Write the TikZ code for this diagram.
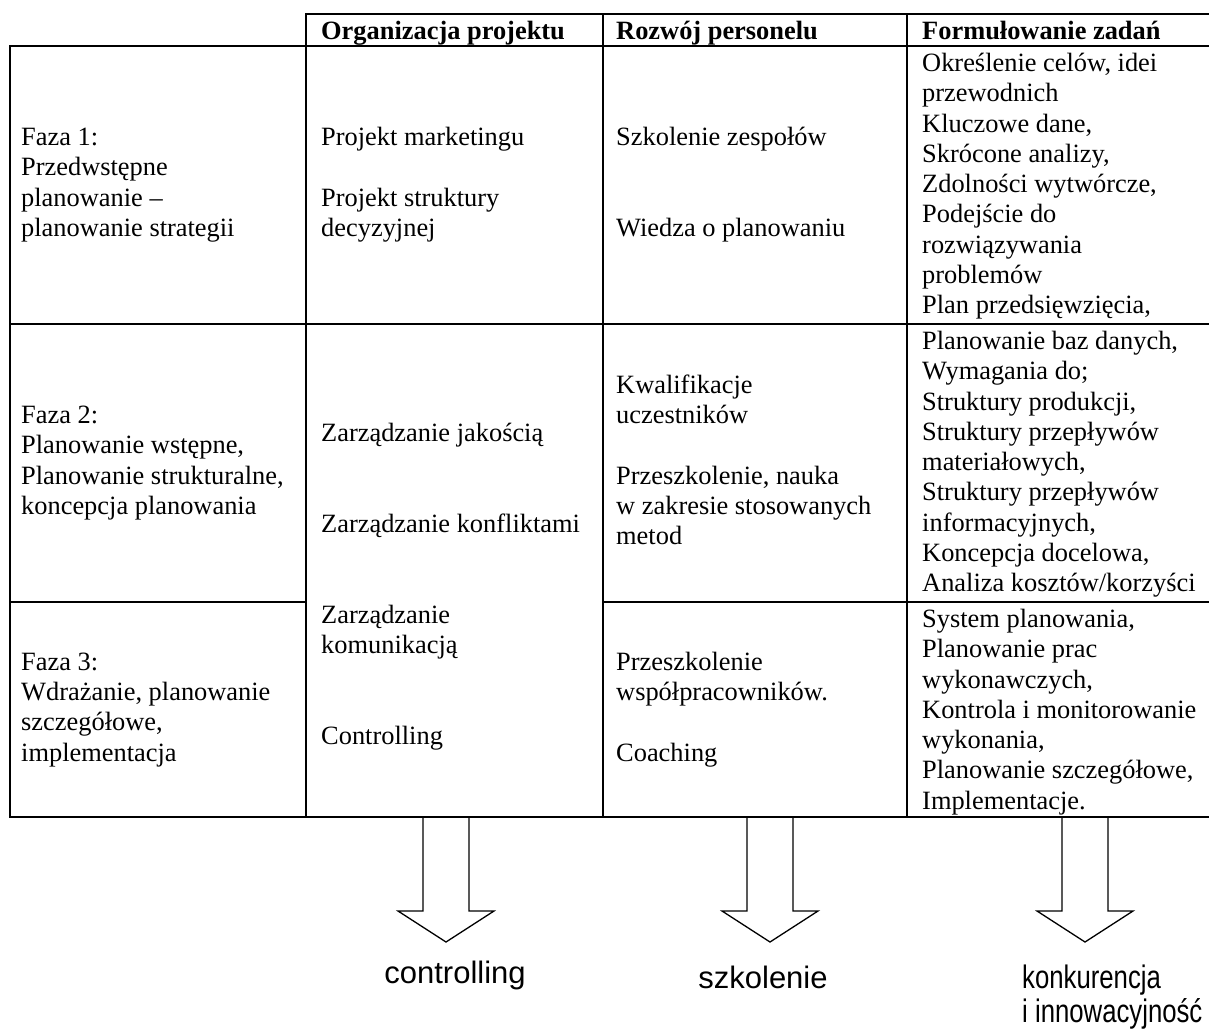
\documentclass[tikz,border=0pt]{standalone}
\usepackage{fontspec}
\usepackage{graphicx}
\setmainfont{Liberation Serif}
\newfontfamily\labelfont{Liberation Sans}
\begin{document}
\begin{tikzpicture}[x=1pt,y=-1pt,
  grid/.style={line width=2.2pt, line cap=rect, draw=black},
  arrowline/.style={line width=1.3pt, draw=black, line join=miter},
  cell/.style={inner sep=0pt, align=left, anchor=west, font=\fontsize{26.4}{30.3}\selectfont},
  celltop/.style={cell, anchor=north west},
  hdr/.style={inner sep=0pt, anchor=base west, font=\fontsize{26.4}{30.3}\selectfont\bfseries},
  lbl/.style={inner sep=0pt, font=\labelfont\fontsize{31}{35}\selectfont},
  pics/blockarrow/.style={code={
    \draw[arrowline] (-23,0) -- (-23,94) -- (-48,94) -- (0,125) -- (48,94) -- (23,94) -- (23,0);
  }}]
\useasboundingbox (0,0) rectangle (1209,1030);

% table grid
\draw[grid] (306,14) -- (1220,14);
\draw[grid] (10,46) -- (1220,46);
\draw[grid] (10,324) -- (1220,324);
\draw[grid] (10,602) -- (306,602);
\draw[grid] (603,602) -- (1220,602);
\draw[grid] (10,817) -- (1220,817);
\draw[grid] (10,46) -- (10,817);
\draw[grid] (306,14) -- (306,817);
\draw[grid] (603,14) -- (603,817);
\draw[grid] (907,14) -- (907,817);

% header
\node[hdr] (h2) at (321,40) {Organizacja projektu};
\node[hdr] (h3) at (616,40) {Rozwój personelu};
\node[hdr] (h4) at (922,40) {Formułowanie zadań};

% row 1
\node[cell] (c11) at (21,185) {\strut Faza 1:\\\strut Przedwstępne\\\strut planowanie –\\\strut planowanie strategii};
\node[cell] (c12) at (321,185) {\strut Projekt marketingu\\\strut\\\strut Projekt struktury\\\strut decyzyjnej};
\node[cell] (c13) at (616,185) {\strut Szkolenie zespołów\\\strut\\\strut\\\strut Wiedza o planowaniu};
\node[celltop] (c14) at (922,50) {\strut Określenie celów, idei\\\strut przewodnich\\\strut Kluczowe dane,\\\strut Skrócone analizy,\\\strut Zdolności wytwórcze,\\\strut Podejście do\\\strut rozwiązywania\\\strut problemów\\\strut Plan przedsięwzięcia,};

% row 2
\node[cell] (c21) at (21,463) {\strut Faza 2:\\\strut Planowanie wstępne,\\\strut Planowanie strukturalne,\\\strut koncepcja planowania};
\node[celltop] (c22) at (321,420) {\strut Zarządzanie jakością\\\strut\\\strut\\\strut Zarządzanie konfliktami\\\strut\\\strut\\\strut Zarządzanie\\\strut komunikacją\\\strut\\\strut\\\strut Controlling};
\node[cell] (c23) at (616,463) {\strut Kwalifikacje\\\strut uczestników\\\strut\\\strut Przeszkolenie, nauka\\\strut w zakresie stosowanych\\\strut metod};
\node[celltop] (c24) at (922,328) {\strut Planowanie baz danych,\\\strut Wymagania do;\\\strut Struktury produkcji,\\\strut Struktury przepływów\\\strut materiałowych,\\\strut Struktury przepływów\\\strut informacyjnych,\\\strut Koncepcja docelowa,\\\strut Analiza kosztów/korzyści};

% row 3
\node[cell] (c31) at (21,709.5) {\strut Faza 3:\\\strut Wdrażanie, planowanie\\\strut szczegółowe,\\\strut implementacja};
\node[cell] (c33) at (616,709.5) {\strut Przeszkolenie\\\strut współpracowników.\\\strut\\\strut Coaching};
\node[celltop] (c34) at (922,606) {\strut System planowania,\\\strut Planowanie prac\\\strut wykonawczych,\\\strut Kontrola i monitorowanie\\\strut wykonania,\\\strut Planowanie szczegółowe,\\\strut Implementacje.};

% block arrows
\coordinate (a1) at (446,817);
\coordinate (a2) at (770,817);
\coordinate (a3) at (1085,817);
\pic at (a1) {blockarrow};
\pic at (a2) {blockarrow};
\pic at (a3) {blockarrow};

% labels
\node[lbl, anchor=base] (l1) at (455,983) {controlling};
\node[lbl, anchor=base] (l2) at (763,988) {szkolenie};
\node[lbl, anchor=base west] (l3) at (1022,988) {\scalebox{0.83}[1.05]{konkurencja}};
\node[lbl, anchor=base west] (l4) at (1022,1022) {\scalebox{0.83}[1.05]{i innowacyjność}};
\end{tikzpicture}
\end{document}
